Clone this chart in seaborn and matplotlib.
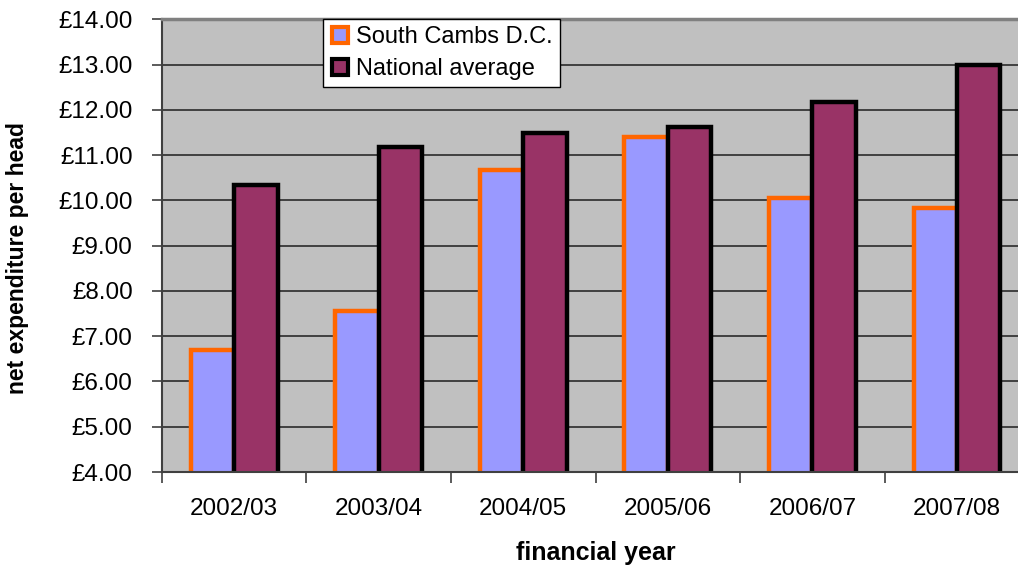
import seaborn as sns
import matplotlib.pyplot as plt
import pandas as pd
from matplotlib.lines import Line2D
from matplotlib.ticker import FuncFormatter, FixedLocator

# data
years = ['2002/03', '2003/04', '2004/05', '2005/06', '2006/07', '2007/08']
south_cambs = [6.70, 7.55, 10.67, 11.39, 10.05, 9.83]
national_avg = [10.33, 11.17, 11.48, 11.63, 12.17, 12.98]
series_names = ['South Cambs D.C.', 'National average']

df = pd.DataFrame({
    'year': years * 2,
    'value': south_cambs + national_avg,
    'series': [series_names[0]] * len(years) + [series_names[1]] * len(years),
})

sns.set_theme(style='white')
plt.rcParams['font.family'] = ['Liberation Sans', 'DejaVu Sans']
plt.rcParams['text.color'] = 'black'
plt.rcParams['axes.labelcolor'] = 'black'

fig = plt.figure(figsize=(10.18, 5.66), dpi=100)
ax = fig.add_axes([0.159, 0.166, 0.852, 0.800])

fills = {'South Cambs D.C.': '#9999FF', 'National average': '#993366'}
edges = {'South Cambs D.C.': '#FF6600', 'National average': '#000000'}

sns.barplot(data=df, x='year', y='value', hue='series', palette=fills,
            width=0.6, ax=ax, legend=False, saturation=1)
for cont, name in zip(ax.containers, series_names):
    for bar in cont:
        bar.set_edgecolor(edges[name])
        bar.set_linewidth(3.2)
        bar.set_joinstyle('miter')

ax.set_facecolor('#C0C0C0')
ax.set_ylim(4, 14)
ax.set_xlim(-0.5, 5.5)
ax.yaxis.set_major_locator(FixedLocator([4, 5, 6, 7, 8, 9, 10, 11, 12, 13, 14]))
ax.yaxis.set_major_formatter(FuncFormatter(lambda v, p: '£{:.2f}'.format(v)))
ax.grid(axis='y', color='#404040', linewidth=1.4)
ax.set_axisbelow(True)

ax.tick_params(axis='y', which='major', left=True, length=7, width=1.2,
               color='#404040', labelsize=17.5, pad=14, labelcolor='black')
ax.tick_params(axis='x', which='major', bottom=False, labelsize=17.5, pad=13,
               labelcolor='black')
ax.set_xticks([i - 0.5 for i in range(len(years) + 1)], minor=True)
ax.tick_params(axis='x', which='minor', bottom=True, length=8, width=1.2,
               color='#404040')

for side in ['left', 'bottom']:
    ax.spines[side].set_color('#404040')
    ax.spines[side].set_linewidth(1.5)
ax.spines['top'].set_color('#808080')
ax.spines['top'].set_linewidth(2.5)
ax.spines['right'].set_visible(False)

ax.set_xlabel('financial year', fontsize=18, fontweight='bold', labelpad=15)
ax.set_ylabel('net expenditure per head', fontsize=16.5, fontweight='bold')
ax.yaxis.set_label_coords(-0.153, 0.472)

handles = [Line2D([], [], linestyle='none', marker='s', markersize=12,
                  markerfacecolor=fills[n], markeredgecolor=edges[n],
                  markeredgewidth=3) for n in series_names]
leg = ax.legend(handles, series_names, loc='upper left',
                bbox_to_anchor=(0.186, 1.0), fontsize=17, frameon=True,
                fancybox=False, framealpha=1, edgecolor='black',
                handlelength=0.8, handletextpad=0.3, borderpad=0.3,
                labelspacing=0.4, borderaxespad=0)
leg.get_frame().set_linewidth(1.0)

fig.savefig('out.png', dpi=100)
